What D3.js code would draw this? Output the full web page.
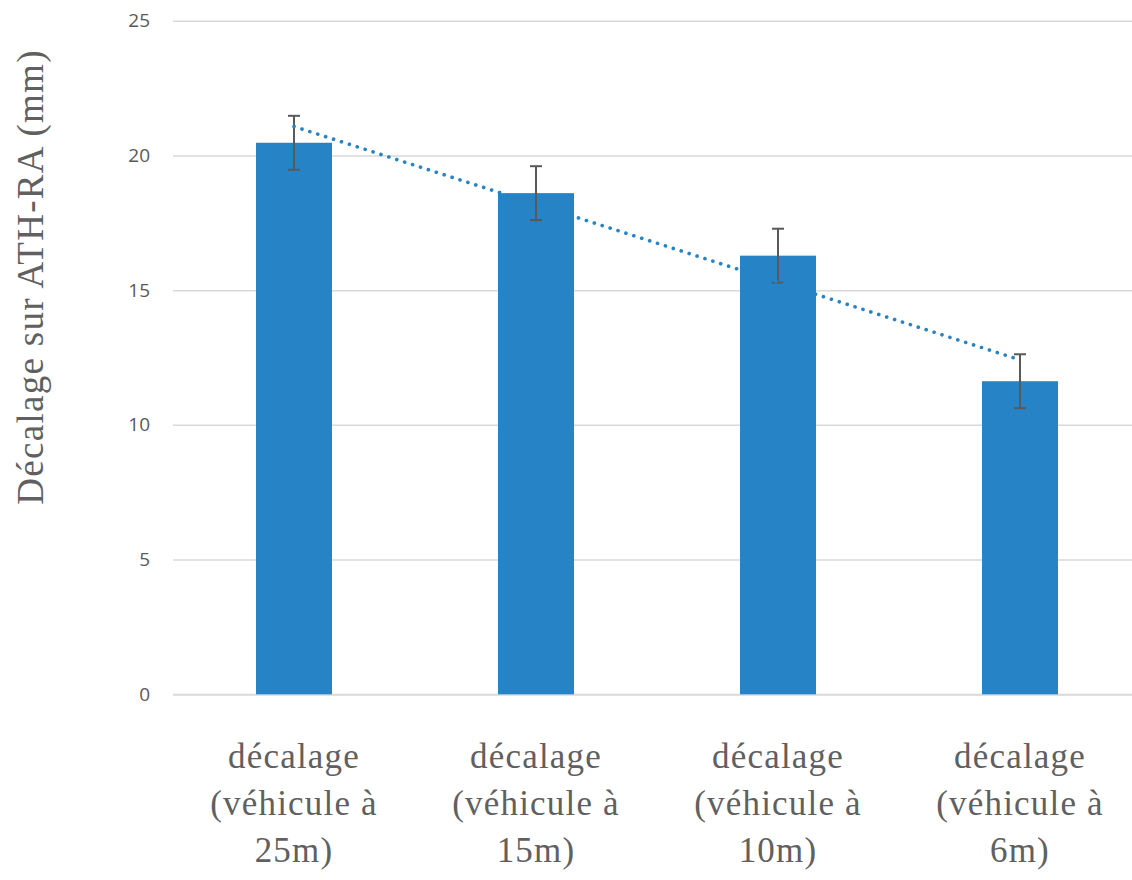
<!DOCTYPE html>
<html>
<head>
<meta charset="utf-8">
<script src="https://cdn.jsdelivr.net/npm/d3@7"></script>
<style>
  body { margin: 0; background: #fff; }
</style>
</head>
<body>
<div id="chart"></div>
<script>
// data
const categories = ["25m", "15m", "10m", "6m"];
const categoryLines = [
  ["décalage", "(véhicule à", "25m)"],
  ["décalage", "(véhicule à", "15m)"],
  ["décalage", "(véhicule à", "10m)"],
  ["décalage", "(véhicule à", "6m)"]
];
const offsets = [20.47, 18.6, 16.28, 11.62];
const errors = [1, 1, 1, 1];
const yTicks = [0, 5, 10, 15, 20, 25];

const width = 1132;
const height = 880;
const marginLeft = 173;
const marginTop = 20.7;
const plotBottom = 694.3;

const svg = d3.select('#chart')
  .append('svg')
    .attr('width', width)
    .attr('height', height)
    .attr('viewBox', [0, 0, width, height]);

// scales
const x = d3.scaleBand()
  .domain(categories)
  .range([marginLeft, 1141])
  .paddingInner(0.686)
  .paddingOuter(0.343);

const y = d3.scaleLinear()
  .domain([0, 25])
  .range([plotBottom, marginTop]);

// gridlines + y tick labels
const yAxis = svg.append('g')
  .attr('transform', `translate(${marginLeft},0)`)
  .call(d3.axisLeft(y)
    .tickValues(yTicks)
    .tickSize(-(width - marginLeft))
    .tickPadding(23)
    .tickFormat(d3.format('d')));

yAxis.select('.domain').remove();
yAxis.selectAll('.tick line')
  .attr('stroke', '#d9d9d9')
  .attr('stroke-width', d => d === 0 ? 2 : 1.5);
yAxis.selectAll('.tick text')
  .attr('font-family', '"Open Sans", sans-serif')
  .attr('font-size', 19)
  .attr('fill', '#595959');

// bars
svg.selectAll('.bar')
  .data(offsets)
  .join('rect')
    .attr('class', 'bar')
    .attr('x', (d, i) => x(categories[i]))
    .attr('y', d => y(d))
    .attr('width', x.bandwidth())
    .attr('height', d => y(0) - y(d))
    .attr('fill', '#2683c6');

// error bars
const cx = i => x(categories[i]) + x.bandwidth() / 2;
const errG = svg.append('g')
  .attr('stroke', '#595959')
  .attr('stroke-width', 2);

errG.selectAll('.err-v')
  .data(offsets)
  .join('line')
    .attr('x1', (d, i) => cx(i))
    .attr('x2', (d, i) => cx(i))
    .attr('y1', (d, i) => y(d + errors[i]))
    .attr('y2', (d, i) => y(d - errors[i]));

errG.selectAll('.err-top')
  .data(offsets)
  .join('line')
    .attr('x1', (d, i) => cx(i) - 6)
    .attr('x2', (d, i) => cx(i) + 6)
    .attr('y1', (d, i) => y(d + errors[i]))
    .attr('y2', (d, i) => y(d + errors[i]));

errG.selectAll('.err-bot')
  .data(offsets)
  .join('line')
    .attr('x1', (d, i) => cx(i) - 6)
    .attr('x2', (d, i) => cx(i) + 6)
    .attr('y1', (d, i) => y(d - errors[i]))
    .attr('y2', (d, i) => y(d - errors[i]));

// linear trend line (least squares on the bar values)
const n = offsets.length;
const xs = offsets.map((d, i) => i + 1);
const mx = d3.mean(xs);
const my = d3.mean(offsets);
const slope = d3.sum(xs, (v, i) => (v - mx) * (offsets[i] - my)) /
              d3.sum(xs, v => (v - mx) * (v - mx));
const intercept = my - slope * mx;

svg.append('line')
  .attr('x1', cx(0))
  .attr('y1', y(intercept + slope * 1))
  .attr('x2', cx(n - 1))
  .attr('y2', y(intercept + slope * n))
  .attr('stroke', '#2683c6')
  .attr('stroke-width', 3.6)
  .attr('stroke-linecap', 'round')
  .attr('stroke-dasharray', '0.1,8.2');

// category labels
const labels = svg.selectAll('.xlabel')
  .data(categoryLines)
  .join('text')
    .attr('class', 'xlabel')
    .attr('text-anchor', 'middle')
    .attr('font-family', '"Liberation Serif", serif')
    .attr('font-size', 35)
    .attr('letter-spacing', 1.2)
    .attr('fill', '#606060');

labels.selectAll('tspan')
  .data((d, i) => d.map(t => ({ t, i })))
  .join('tspan')
    .attr('x', d => cx(d.i))
    .attr('y', (d, j) => 768 + j * 47)
    .text(d => d.t);

// y axis title
svg.append('text')
  .attr('transform', 'translate(43,277) rotate(-90)')
  .attr('text-anchor', 'middle')
  .attr('font-family', '"Liberation Serif", serif')
  .attr('font-size', 37)
  .attr('letter-spacing', 1.3)
  .attr('fill', '#606060')
  .text('Décalage sur ATH-RA (mm)');
</script>
</body>
</html>
